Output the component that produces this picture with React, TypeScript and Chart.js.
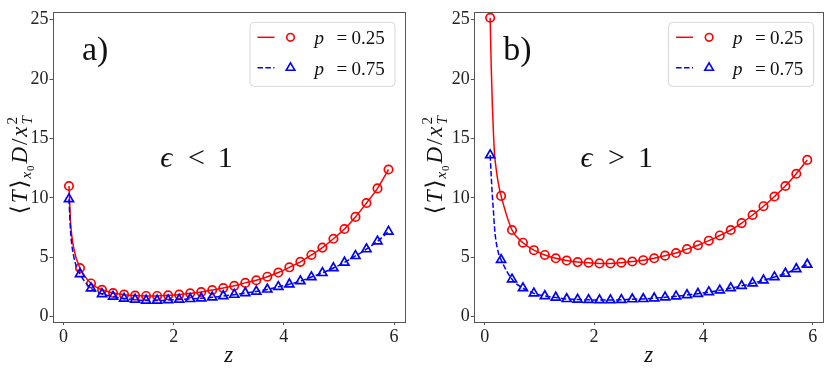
import React, { useEffect, useRef } from "react";
import { Chart, registerables } from "chart.js";
Chart.register(...registerables);

// ---------- data ----------
const Z = [0.1, 0.3, 0.5, 0.7, 0.9, 1.1, 1.3, 1.5, 1.7, 1.9, 2.1, 2.3, 2.5, 2.7, 2.9, 3.1, 3.3, 3.5, 3.7, 3.9, 4.1, 4.3, 4.5, 4.7, 4.9, 5.1, 5.3, 5.5, 5.7, 5.9];
const A_P25 = [11.0, 4.1, 2.8, 2.27, 2.0, 1.86, 1.78, 1.75, 1.75, 1.8, 1.86, 1.97, 2.08, 2.25, 2.41, 2.6, 2.85, 3.07, 3.37, 3.72, 4.16, 4.62, 5.2, 5.82, 6.56, 7.38, 8.4, 9.57, 10.8, 12.39];
const A_P75 = [9.9, 3.6, 2.4, 1.92, 1.7, 1.53, 1.45, 1.37, 1.37, 1.4, 1.45, 1.5, 1.56, 1.64, 1.75, 1.86, 2.0, 2.13, 2.3, 2.52, 2.74, 3.0, 3.34, 3.69, 4.1, 4.57, 5.12, 5.69, 6.35, 7.17];
const B_P25 = [25.16, 10.17, 7.3, 6.23, 5.6, 5.2, 4.92, 4.73, 4.6, 4.55, 4.49, 4.49, 4.55, 4.65, 4.76, 4.92, 5.14, 5.36, 5.69, 6.02, 6.4, 6.84, 7.3, 7.88, 8.56, 9.3, 10.12, 11.0, 12.03, 13.2];
const B_P75 = [13.6, 4.79, 3.15, 2.41, 1.97, 1.75, 1.62, 1.5, 1.45, 1.42, 1.4, 1.4, 1.42, 1.48, 1.5, 1.56, 1.64, 1.72, 1.83, 1.94, 2.08, 2.22, 2.41, 2.6, 2.82, 3.07, 3.34, 3.64, 4.02, 4.4];

// extra points of the theory curves near z -> 0
const HEAD_A_Z = [0.13, 0.19];
const HEAD_A_P25 = [7.9, 5.7];
const HEAD_A_P75 = [7.1, 5.0];
const HEAD_B_Z = [0.12, 0.14, 0.16, 0.18, 0.2, 0.25];
const HEAD_B_P25 = [21.0, 17.8, 15.5, 13.7, 12.8, 11.2];
const HEAD_B_P75 = [11.8, 10.2, 8.9, 7.5, 6.6, 5.4];

const X_TICKS = [0, 2, 4, 6];
const Y_TICKS = [0, 5, 10, 15, 20, 25];
const LEGEND_LABELS = ["0.25", "0.75"];

const RED = "#ff0000";
const BLUE = "#0000ff";
const FRAME = "#555555";
const SERIF = '"Liberation Serif", "DejaVu Serif", serif';

type Piece = { t: string; it?: boolean; size: number; dy?: number; noAdv?: boolean; gap?: number };

function fontOf(p: Piece) {
  return `${p.it ? "italic " : ""}${p.size}px ${SERIF}`;
}
function measurePieces(ctx: CanvasRenderingContext2D, pieces: Piece[]) {
  let w = 0;
  for (const p of pieces) {
    ctx.font = fontOf(p);
    w += p.gap || 0;
    if (!p.noAdv) w += ctx.measureText(p.t).width;
  }
  return w;
}
function drawPieces(ctx: CanvasRenderingContext2D, pieces: Piece[], x: number, y: number, extra: number) {
  let cx = x;
  pieces.forEach((p, i) => {
    ctx.font = fontOf(p);
    cx += p.gap || 0;
    if (i > 0 && !pieces[i - 1].noAdv) cx += extra;
    ctx.fillText(p.t, cx, y + (p.dy || 0));
    if (!p.noAdv) cx += ctx.measureText(p.t).width;
  });
}

const Y_LABEL: Piece[] = [
  { t: "\u27E8", size: 23 },
  { t: "T", it: true, size: 23, gap: 1 },
  { t: "\u27E9", size: 23, gap: 1 },
  { t: "x", it: true, size: 15, dy: 4 },
  { t: "0", size: 11, dy: 7 },
  { t: "D", it: true, size: 23, gap: 1 },
  { t: "/", size: 23, gap: 1 },
  { t: "x", it: true, size: 23, gap: 1 },
  { t: "2", size: 15, dy: -10, noAdv: true, gap: 1 },
  { t: "T", it: true, size: 15, dy: 5 },
];
const Y_LABEL_LEN = 98;

type PanelSpec = {
  tag: string;
  rel: string;
  p25: number[];
  p75: number[];
  headZ: number[];
  head25: number[];
  head75: number[];
  yAxisWidth: number;
  rightPad: number;
};

const PANEL_A: PanelSpec = { tag: "a)", rel: "<", p25: A_P25, p75: A_P75, headZ: HEAD_A_Z, head25: HEAD_A_P25, head75: HEAD_A_P75, yAxisWidth: 53, rightPad: 10.5 };
const PANEL_B: PanelSpec = { tag: "b)", rel: ">", p25: B_P25, p75: B_P75, headZ: HEAD_B_Z, head25: HEAD_B_P25, head75: HEAD_B_P75, yAxisWidth: 59.3, rightPad: 4 };

function decoPlugin(spec: PanelSpec) {
  return {
    id: "deco" + spec.tag,
    afterDraw(chart: any) {
      const ctx: CanvasRenderingContext2D = chart.ctx;
      const a = chart.chartArea;
      const xs = chart.scales.x;
      const ys = chart.scales.y;
      ctx.save();
      // frame
      ctx.strokeStyle = FRAME;
      ctx.lineWidth = 1;
      ctx.strokeRect(Math.round(a.left) + 0.5, Math.round(a.top) + 0.5, Math.round(a.right - a.left), Math.round(a.bottom - a.top));

      ctx.fillStyle = "#111";
      ctx.textBaseline = "alphabetic";
      // panel tag
      ctx.textAlign = "left";
      ctx.font = `34px ${SERIF}`;
      ctx.fillText(spec.tag, a.left + 29, a.top + 48);

      // epsilon relation
      const ax = xs.getPixelForValue(2.43);
      const ay = ys.getPixelForValue(12.6);
      ctx.textAlign = "center";
      ctx.font = `italic 30px ${SERIF}`;
      ctx.fillText("\u03F5", ax - 31, ay);
      ctx.font = `30px ${SERIF}`;
      ctx.fillText(spec.rel, ax - 1, ay);
      ctx.fillText("1", ax + 28, ay);

      // x title
      ctx.font = `italic 23px ${SERIF}`;
      ctx.fillText("z", (a.left + a.right) / 2, 362);

      // y title (rotated)
      ctx.textAlign = "left";
      const w = measurePieces(ctx, Y_LABEL);
      const advCount = Y_LABEL.filter((p, i) => i > 0 && !Y_LABEL[i - 1].noAdv).length;
      const extra = Math.max(0, (Y_LABEL_LEN - w) / advCount);
      const total = w + extra * advCount;
      ctx.save();
      ctx.translate(27, (a.top + a.bottom) / 2 - 1.5);
      ctx.rotate(-Math.PI / 2);
      drawPieces(ctx, Y_LABEL, -total / 2, 0, extra);
      ctx.restore();

      // legend
      const bx = a.right - 155;
      const by = a.top + 10;
      const bw = 145;
      const bh = 64;
      ctx.beginPath();
      (ctx as any).roundRect(bx + 0.5, by + 0.5, bw, bh, 4);
      ctx.fillStyle = "rgba(255,255,255,0.8)";
      ctx.fill();
      ctx.strokeStyle = "#d6d6d6";
      ctx.lineWidth = 1;
      ctx.stroke();

      const rows = [by + 15.5, by + 46];
      // row 1: red solid + circle
      ctx.strokeStyle = RED;
      ctx.lineWidth = 1.5;
      ctx.setLineDash([]);
      ctx.beginPath();
      ctx.moveTo(bx + 8, rows[0]);
      ctx.lineTo(bx + 25, rows[0]);
      ctx.stroke();
      ctx.lineWidth = 1.6;
      ctx.beginPath();
      ctx.arc(bx + 41, rows[0], 3.8, 0, Math.PI * 2);
      ctx.stroke();
      // row 2: blue dashed + triangle
      ctx.strokeStyle = BLUE;
      ctx.lineWidth = 1.5;
      ctx.setLineDash([5.5, 2.4]);
      ctx.beginPath();
      ctx.moveTo(bx + 8, rows[1]);
      ctx.lineTo(bx + 25, rows[1]);
      ctx.stroke();
      ctx.setLineDash([]);
      ctx.lineWidth = 1.6;
      const r = 5;
      const tx = bx + 41;
      const ty = rows[1];
      ctx.beginPath();
      ctx.moveTo(tx, ty - r);
      ctx.lineTo(tx + r * 0.866, ty + r * 0.5);
      ctx.lineTo(tx - r * 0.866, ty + r * 0.5);
      ctx.closePath();
      ctx.stroke();

      ctx.fillStyle = "#111";
      LEGEND_LABELS.forEach((lab, i) => {
        const yb = rows[i] + 7;
        ctx.font = `italic 19px ${SERIF}`;
        ctx.fillText("p", bx + 65, yb);
        ctx.font = `19px ${SERIF}`;
        ctx.fillText("=", bx + 87, yb);
        ctx.fillText(lab, bx + 102, yb);
      });
      ctx.restore();
    },
  };
}

function buildConfig(spec: PanelSpec): any {
  const pts = (vals: number[]) => Z.map((z, i) => ({ x: z, y: vals[i] }));
  const curve = (vals: number[], head: number[]) =>
    [...pts(vals), ...spec.headZ.map((z, i) => ({ x: z, y: head[i] }))].sort((p, q) => p.x - q.x);
  const tickFont = { family: SERIF, size: 18 };
  return {
    type: "scatter",
    data: {
      datasets: [
        {
          data: pts(spec.p75),
          showLine: false,
          pointStyle: "triangle",
          pointRadius: 5.2,
          pointBorderWidth: 1.7,
          borderColor: BLUE,
          backgroundColor: "rgba(0,0,0,0)",
        },
        {
          data: curve(spec.p75, spec.head75),
          showLine: true,
          pointRadius: 0,
          borderColor: BLUE,
          borderWidth: 1.5,
          borderDash: [5.5, 2.4],
          cubicInterpolationMode: "monotone",
          fill: false,
        },
        {
          data: pts(spec.p25),
          showLine: false,
          pointStyle: "circle",
          pointRadius: 4.2,
          pointBorderWidth: 1.7,
          borderColor: RED,
          backgroundColor: "rgba(0,0,0,0)",
        },
        {
          data: curve(spec.p25, spec.head25),
          showLine: true,
          pointRadius: 0,
          borderColor: RED,
          borderWidth: 1.5,
          cubicInterpolationMode: "monotone",
          fill: false,
        },
      ],
    },
    options: {
      animation: false,
      responsive: false,
      devicePixelRatio: 1,
      layout: { padding: { left: 0, right: spec.rightPad, top: 4, bottom: 0 } },
      plugins: { legend: { display: false }, tooltip: { enabled: false } },
      scales: {
        x: {
          type: "linear",
          min: -0.19,
          max: 6.19,
          afterBuildTicks: (s: any) => {
            s.ticks = X_TICKS.map((v) => ({ value: v }));
          },
          afterFit: (s: any) => {
            s.height = 48.5;
          },
          border: { display: false },
          grid: { display: true, drawOnChartArea: false, drawTicks: true, tickLength: 3.5, color: FRAME, lineWidth: 1 },
          ticks: { font: tickFont, color: "#222", padding: 1, maxRotation: 0 },
        },
        y: {
          type: "linear",
          min: -0.4,
          max: 25.66,
          afterBuildTicks: (s: any) => {
            s.ticks = Y_TICKS.map((v) => ({ value: v }));
          },
          afterFit: (s: any) => {
            s.width = spec.yAxisWidth;
          },
          border: { display: false },
          grid: { display: true, drawOnChartArea: false, drawTicks: true, tickLength: 3.5, color: FRAME, lineWidth: 1 },
          ticks: { font: tickFont, color: "#222", padding: 1 },
        },
      },
    },
    plugins: [decoPlugin(spec)],
  };
}

function Panel({ left, spec }: { left: number; spec: PanelSpec }) {
  const ref = useRef<HTMLCanvasElement>(null);
  useEffect(() => {
    const chart = new Chart(ref.current as HTMLCanvasElement, buildConfig(spec));
    return () => chart.destroy();
  }, [spec]);
  return (
    <div style={{ position: "absolute", left, top: 0, width: 415, height: 370 }}>
      <canvas ref={ref} width={415} height={370} style={{ width: 415, height: 370, display: "block" }} />
    </div>
  );
}

export default function App() {
  return (
    <div style={{ position: "fixed", left: 0, top: 0, width: 830, height: 370, background: "#fff" }}>
      <Panel left={0} spec={PANEL_A} />
      <Panel left={415} spec={PANEL_B} />
    </div>
  );
}
